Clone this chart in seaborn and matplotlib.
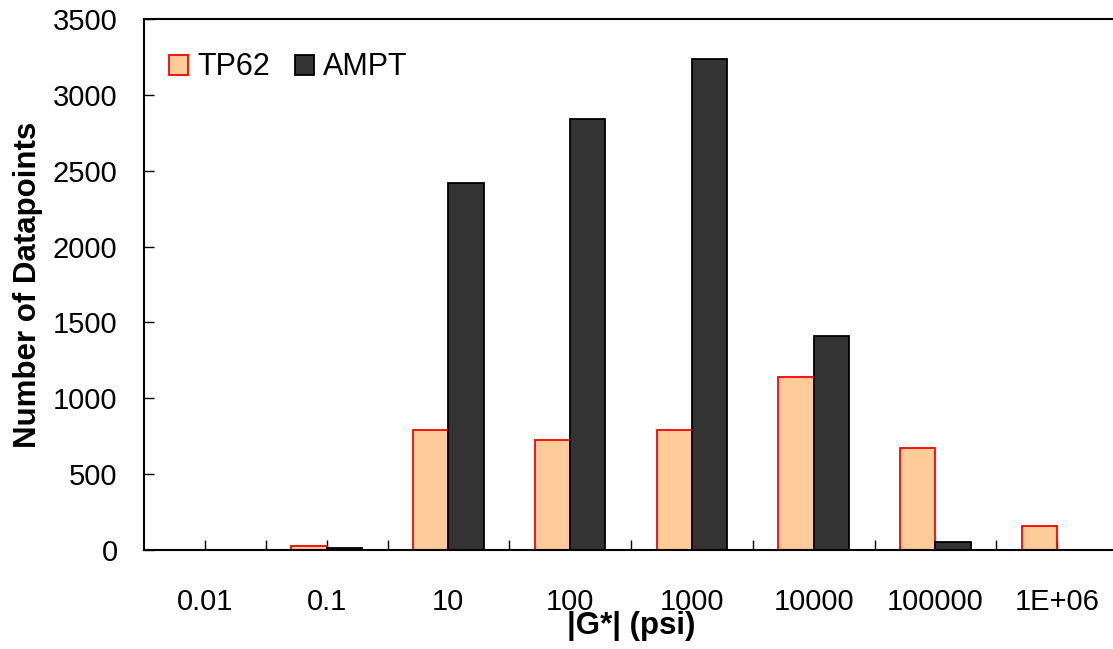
import matplotlib
matplotlib.use("Agg")
import matplotlib.pyplot as plt
import seaborn as sns
import pandas as pd

categories = ["0.01", "0.1", "10", "100", "1000", "10000", "100000", "1E+06"]
tp62 = [0, 28, 791, 725, 791, 1140, 672, 160]
ampt = [0, 15, 2421, 2841, 3237, 1411, 53, 0]
series_names = ["TP62", "AMPT"]
y_ticks = [0, 500, 1000, 1500, 2000, 2500, 3000, 3500]

df = pd.DataFrame({
    "cat": categories * 2,
    "val": tp62 + ampt,
    "series": [series_names[0]] * len(categories) + [series_names[1]] * len(categories),
})

sns.set_theme(style="white")
plt.rcParams["font.family"] = ["Liberation Sans", "DejaVu Sans"]
plt.rcParams["text.color"] = "black"
plt.rcParams["axes.labelcolor"] = "black"
plt.rcParams["xtick.color"] = "black"
plt.rcParams["ytick.color"] = "black"

W, H = 1113, 649
fig = plt.figure(figsize=(W / 100, H / 100), dpi=100)
ax = fig.add_axes([144 / W, (H - 550) / H, (1118 - 144) / W, (550 - 19) / H])

fills = {"TP62": "#FFCC99", "AMPT": "#333333"}
edges = {"TP62": "#FF0000", "AMPT": "#000000"}

sns.barplot(data=df, x="cat", y="val", hue="series", order=categories,
            hue_order=series_names, palette=fills, width=0.58, gap=0,
            saturation=1, ax=ax, legend=False)

for cont, name in zip(ax.containers, series_names):
    for p in cont.patches:
        p.set_edgecolor(edges[name])
        p.set_linewidth(1.3)
        if p.get_height() == 0:
            p.set_visible(False)

ax.set_xlim(-0.5, 7.5)
ax.set_ylim(0, 3500)
ax.set_yticks(y_ticks)
ax.set_yticklabels([str(v) for v in y_ticks])
ax.set_xticks(range(len(categories)))
ax.set_xticklabels(categories)
ax.set_xticks([i + 0.5 for i in range(len(categories) - 1)], minor=True)

ax.tick_params(axis="x", which="both", bottom=True, direction="in", length=7.5,
               width=1, color="black", labelcolor="black", labelsize=21, pad=27)
ax.tick_params(axis="y", which="major", left=True, direction="in", length=7.5,
               width=1, color="black", labelcolor="black", labelsize=21, pad=19)

for s in ax.spines.values():
    s.set_color("black")
    s.set_linewidth(1.5)

ax.set_xlabel("|G*| (psi)", fontsize=22.5, fontweight="bold", labelpad=-3, color="black")
ax.set_ylabel("Number of Datapoints", fontsize=22.5, fontweight="bold", labelpad=7, color="black")

handles = [ax.containers[0].patches[2], ax.containers[1].patches[2]]
leg = ax.legend(handles, series_names, loc="upper left", frameon=False, ncol=2,
                fontsize=22, handlelength=0.62, handleheight=0.62, handletextpad=0.3,
                columnspacing=0.8, bbox_to_anchor=(0.026, 0.937), borderaxespad=0.0,
                borderpad=0.0)
for t in leg.get_texts():
    t.set_color("black")

fig.savefig("out.png", dpi=100)
